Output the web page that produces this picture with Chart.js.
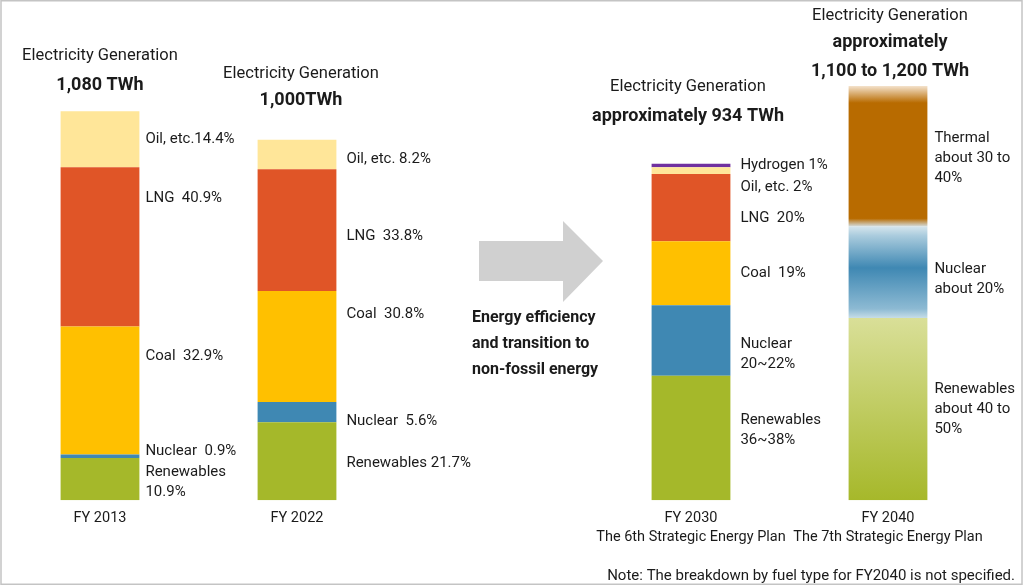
<!DOCTYPE html>
<html>
<head>
<meta charset="utf-8">
<script src="https://cdn.jsdelivr.net/npm/chart.js@4.4.1/dist/chart.umd.min.js"></script>
<style>
  body { margin: 0; background: #fff; }
  #wrap { width: 1024px; height: 586px; }
</style>
</head>
<body>
<div id="wrap"><canvas id="genChart" width="1024" height="586"></canvas></div>
<script>
// years on the axis and the plan each projection comes from
var years = ['FY 2013', 'FY 2022', 'FY 2030', 'FY 2040'];
var plans = ['', '', 'The 6th Strategic Energy Plan', 'The 7th Strategic Energy Plan'];

// total generation in TWh (FY2040 is given as 1,100-1,200)
var totals = [1080, 1000, 934, 1150];
var totalText = [['1,080 TWh'], ['1,000TWh'], ['approximately 934 TWh'], ['approximately', '1,100 to 1,200 TWh']];

// share of generation, % (bottom to top)
var renewables = [10.9, 21.7, 37, 44];
var nuclear = [0.9, 5.6, 21, 22];
var coal = [32.9, 30.8, 19, null];
var lng = [40.9, 33.8, 20, null];
var oil = [14.4, 8.2, 2, null];
var hydrogen = [null, null, 1, null];
var thermal = [null, null, null, 34];

// segment labels
var renewablesText = ['Renewables\n10.9%', 'Renewables 21.7%', 'Renewables\n36~38%', 'Renewables\nabout 40 to\n50%'];
var nuclearText = ['Nuclear  0.9%', 'Nuclear  5.6%', 'Nuclear\n20~22%', 'Nuclear\nabout 20%'];
var coalText = ['Coal  32.9%', 'Coal  30.8%', 'Coal  19%', ''];
var lngText = ['LNG  40.9%', 'LNG  33.8%', 'LNG  20%', ''];
var oilText = ['Oil, etc.14.4%', 'Oil, etc. 8.2%', 'Oil, etc. 2%', ''];
var hydrogenText = ['', '', 'Hydrogen 1%', ''];
var thermalText = ['', '', '', 'Thermal\nabout 30 to\n40%'];

var noteText = 'Note: The breakdown by fuel type for FY2040 is not specified.';
var arrowText = ['Energy efficiency', 'and transition to', 'non-fossil energy'];

// layout bits (pixels)
var gapSlot = 2;                       // empty slot where the arrow sits
var titleY = [[56, 85], [74, 100], [87, 116], [16, 42, 71]];
var titleDx = [0, 4, -3, 2];
var labelGap = [6, 10, 10, 7];

var fuels = [
  { name: 'Renewables', share: renewables, text: renewablesText, color: '#a5b82a', nudge: [3, 2, -8, 0],
    fade: [[0, '#d9df98'], [1, '#a6b82a']] },
  { name: 'Nuclear', share: nuclear, text: nuclearText, color: '#3f88b3', nudge: [-5, 9, 14, 7],
    fade: [[0, '#d3e4ec'], [0.1, '#a9cbdd'], [0.45, '#3f88b3'], [0.9, '#8dbad3'], [1, '#c6dde7']] },
  { name: 'Coal', share: coal, text: coalText, color: '#ffc000', nudge: [-34, -32, 0, 0] },
  { name: 'LNG', share: lng, text: lngText, color: '#e05527', nudge: [-49, 6, 11, 0] },
  { name: 'Oil, etc.', share: oil, text: oilText, color: '#ffe699', nudge: [0, 5, 17, 0] },
  { name: 'Hydrogen', share: hydrogen, text: hydrogenText, color: '#7030a0', nudge: [0, 0, 0, 0] },
  { name: 'Thermal', share: thermal, text: thermalText, color: '#b86b00', nudge: [0, 0, 0, 2],
    fade: [[0, '#f4e2cc'], [0.12, '#b86b00'], [0.94, '#b86b00'], [1, '#d4e2e9']] }
];

// put the empty arrow slot between FY2022 and FY2030
function toSlots(arr, blank) {
  var out = arr.slice();
  out.splice(gapSlot, 0, blank);
  return out;
}
function slotToBar(slot) {
  return slot > gapSlot ? slot - 1 : slot;
}

var axisLabels = toSlots(years.map(function (y, i) {
  return plans[i] ? [y, plans[i]] : y;
}), '');

function fillFor(fuel, ctx) {
  var chart = ctx.chart;
  if (!fuel.fade || ctx.dataIndex !== 4 || !chart.chartArea || !chart.scales.y) return fuel.color;
  var yScale = chart.scales.y, base = 0;
  for (var d = 0; d < ctx.datasetIndex; d++) base += chart.data.datasets[d].data[4] || 0;
  var v = chart.data.datasets[ctx.datasetIndex].data[4] || 0;
  var top = yScale.getPixelForValue(base + v), bottom = yScale.getPixelForValue(base);
  var g = chart.ctx.createLinearGradient(0, top, 0, bottom);
  fuel.fade.forEach(function (s) { g.addColorStop(s[0], s[1]); });
  return g;
}

var datasets = fuels.map(function (f) {
  return {
    label: f.name,
    data: toSlots(f.share.map(function (s, i) {
      return s == null ? null : s * totals[i] / 100;
    }), null),
    backgroundColor: function (ctx) { return fillFor(f, ctx); },
    borderWidth: 0,
    barPercentage: 0.4,
    categoryPercentage: 1.0
  };
});

var textColor = '#1b1b1b';
var fontFam = 'Roboto, "Liberation Sans", sans-serif';

var decorPlugin = {
  id: 'decor',
  beforeDraw: function (chart) {
    var c = chart.ctx;
    c.save();
    c.fillStyle = '#fff';
    c.fillRect(0, 0, chart.width, chart.height);
    c.strokeStyle = '#c4c4c4';
    c.lineWidth = 1.5;
    c.strokeRect(1, 0.75, chart.width - 3, chart.height - 2.5);
    c.restore();
  },
  afterDatasetsDraw: function (chart) {
    var c = chart.ctx;
    c.save();
    c.fillStyle = textColor;
    c.textBaseline = 'middle';

    // segment labels right of each bar
    c.font = '15px ' + fontFam;
    c.textAlign = 'left';
    chart.data.datasets.forEach(function (ds, di) {
      var meta = chart.getDatasetMeta(di);
      meta.data.forEach(function (bar, slot) {
        if (ds.data[slot] == null) return;
        var b = slotToBar(slot);
        var txt = fuels[di].text[b];
        if (!txt) return;
        var lines = txt.split('\n');
        var mid = (bar.y + bar.base) / 2 + fuels[di].nudge[b];
        var x = bar.x + bar.width / 2 + labelGap[b];
        lines.forEach(function (ln, k) {
          c.fillText(ln, x, mid + (k - (lines.length - 1) / 2) * 20);
        });
      });
    });

    // "Electricity Generation" titles above the bars
    var xScale = chart.scales.x;
    c.textAlign = 'center';
    years.forEach(function (y, b) {
      var slot = b >= gapSlot ? b + 1 : b;
      var cx = xScale.getPixelForValue(slot) + titleDx[b];
      c.font = '16.5px ' + fontFam;
      c.fillText('Electricity Generation', cx, titleY[b][0]);
      c.font = 'bold 18px ' + fontFam;
      totalText[b].forEach(function (t, k) {
        c.fillText(t, cx, titleY[b][k + 1]);
      });
    });

    // the grey arrow in the empty slot
    var ac = xScale.getPixelForValue(gapSlot);
    c.fillStyle = '#d0d0d0';
    c.beginPath();
    c.moveTo(ac - 15, 241);
    c.lineTo(ac + 69, 241);
    c.lineTo(ac + 69, 221);
    c.lineTo(ac + 109, 261);
    c.lineTo(ac + 69, 302);
    c.lineTo(ac + 69, 281);
    c.lineTo(ac - 15, 281);
    c.closePath();
    c.fill();

    c.fillStyle = textColor;
    c.textAlign = 'left';
    c.font = 'bold 16px ' + fontFam;
    arrowText.forEach(function (t, k) {
      c.fillText(t, ac - 22, 318 + k * 26);
    });

    // footnote
    c.font = '15px ' + fontFam;
    c.textAlign = 'right';
    c.fillText(noteText, 1015, 576);
    c.restore();
  }
};

new Chart(document.getElementById('genChart'), {
  type: 'bar',
  data: { labels: axisLabels, datasets: datasets },
  options: {
    responsive: false,
    animation: false,
    layout: { padding: { left: 1.5, right: 37.5, top: 2, bottom: 38.5 } },
    plugins: { legend: { display: false }, tooltip: { enabled: false } },
    scales: {
      x: {
        stacked: true,
        grid: { display: false },
        border: { display: false },
        ticks: {
          color: textColor,
          font: { family: fontFam, size: 14.5, lineHeight: 1.35 },
          maxRotation: 0,
          autoSkip: false,
          padding: 0
        }
      },
      y: {
        stacked: true,
        display: false,
        min: 0,
        max: 1383
      }
    }
  },
  plugins: [decorPlugin]
});
</script>
</body>
</html>
